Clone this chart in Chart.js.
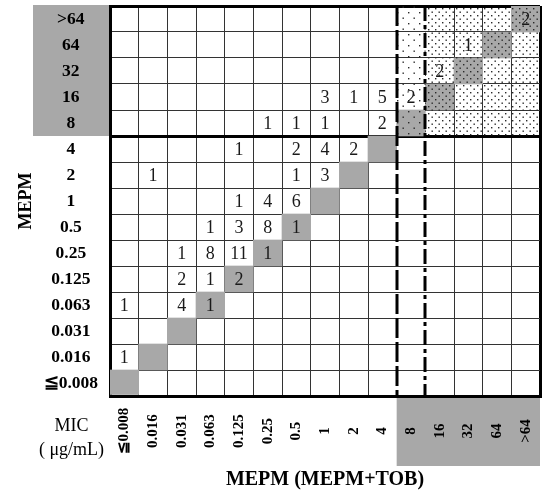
<!DOCTYPE html>
<html lang="en">
<head>
    <meta charset="UTF-8">
    <title>MEPM vs MEPM+TOB MIC</title>
    <script src="https://cdn.jsdelivr.net/npm/chart.js"></script>
    <style>
        body { margin: 0; background: #fff; }
        #wrap { width: 544px; height: 493px; position: relative; }
    </style>
</head>
<body>
    <div id="wrap"><canvas id="mic"></canvas></div>

    <script>
        // MIC steps, columns = MEPM (MEPM+TOB), rows = MEPM (top to bottom)
        const colLabels = ['≦0.008', '0.016', '0.031', '0.063', '0.125', '0.25', '0.5', '1', '2', '4', '8', '16', '32', '64', '>64'];
        const rowLabels = ['>64', '64', '32', '16', '8', '4', '2', '1', '0.5', '0.25', '0.125', '0.063', '0.031', '0.016', '≦0.008'];

        // number of strains per cell, rows in the same order as rowLabels
        const counts = [
            [0, 0, 0, 0, 0, 0, 0, 0, 0, 0, 0, 0, 0, 0, 2],
            [0, 0, 0, 0, 0, 0, 0, 0, 0, 0, 0, 0, 1, 0, 0],
            [0, 0, 0, 0, 0, 0, 0, 0, 0, 0, 0, 2, 0, 0, 0],
            [0, 0, 0, 0, 0, 0, 0, 3, 1, 5, 2, 0, 0, 0, 0],
            [0, 0, 0, 0, 0, 1, 1, 1, 0, 2, 0, 0, 0, 0, 0],
            [0, 0, 0, 0, 1, 0, 2, 4, 2, 0, 0, 0, 0, 0, 0],
            [0, 1, 0, 0, 0, 0, 1, 3, 0, 0, 0, 0, 0, 0, 0],
            [0, 0, 0, 0, 1, 4, 6, 0, 0, 0, 0, 0, 0, 0, 0],
            [0, 0, 0, 1, 3, 8, 1, 0, 0, 0, 0, 0, 0, 0, 0],
            [0, 0, 1, 8, 11, 1, 0, 0, 0, 0, 0, 0, 0, 0, 0],
            [0, 0, 2, 1, 2, 0, 0, 0, 0, 0, 0, 0, 0, 0, 0],
            [1, 0, 4, 1, 0, 0, 0, 0, 0, 0, 0, 0, 0, 0, 0],
            [0, 0, 0, 0, 0, 0, 0, 0, 0, 0, 0, 0, 0, 0, 0],
            [1, 0, 0, 0, 0, 0, 0, 0, 0, 0, 0, 0, 0, 0, 0],
            [0, 0, 0, 0, 0, 0, 0, 0, 0, 0, 0, 0, 0, 0, 0]
        ];

        // resistant breakpoint (shaded labels / stippled block start here)
        const breakpoint = '8';

        const n = colLabels.length;
        const bpCol = colLabels.indexOf(breakpoint);
        const bpRow = n - 1 - rowLabels.indexOf(breakpoint); // value from bottom

        const serif = 'Liberation Serif, Times New Roman, serif';
        const grey = '#a8a8a8';
        const lineGrey = '#333';

        function dots(step) {
            const c = document.createElement('canvas');
            c.width = step; c.height = step;
            const g = c.getContext('2d');
            g.fillStyle = '#2a2a2a';
            g.fillRect(1, 1, 1.4, 1.4);
            g.fillRect(1 + step / 2, 1 + step / 2, 1.4, 1.4);
            return g.createPattern(c, 'repeat');
        }
        const denseDots = dots(7);
        const sparseDots = dots(11);

        // grey diagonal = same MIC with and without TOB
        const diagonal = colLabels.map((c, j) => [j, j + 1]);
        const stipple = colLabels.map((c, j) => j >= bpCol ? [bpRow, n] : null);

        // no label overhang padding, the grid fills the plot
        const noPad = s => { s.paddingTop = 0; s.paddingBottom = 0; s.paddingLeft = 0; s.paddingRight = 0; };

        const cellPlugin = {
            id: 'cells',
            beforeDraw(chart) {
                const { ctx, chartArea, scales } = chart;
                const x = scales.x, y = scales.y, yl = scales.yl;
                ctx.save();
                ctx.fillStyle = grey;
                // row label band for resistant rows
                const top = y.getPixelForValue(n), bot = y.getPixelForValue(bpRow);
                ctx.fillRect(yl.left + 33, top - 1, chartArea.left - yl.left - 33, bot - top + 1);
                // column label band for resistant columns
                const half = (x.getPixelForValue(1) - x.getPixelForValue(0)) / 2;
                const l = x.getPixelForValue(bpCol) - half, r = x.getPixelForValue(n - 1) + half;
                ctx.fillRect(l, chartArea.bottom, r - l, 70);
                ctx.restore();
            },
            afterDraw(chart) {
                const { ctx, chartArea, scales } = chart;
                const x = scales.x, y = scales.y;
                const half = (x.getPixelForValue(1) - x.getPixelForValue(0)) / 2;
                ctx.save();

                // counts
                ctx.fillStyle = '#1a1a1a';
                ctx.font = '18px ' + serif;
                ctx.textAlign = 'center';
                ctx.textBaseline = 'middle';
                counts.forEach((row, r) => {
                    row.forEach((v, c) => {
                        if (!v) return;
                        ctx.fillText(String(v), x.getPixelForValue(c), y.getPixelForValue(n - 1 - r + 0.5) + 1);
                    });
                });

                // column labels, rotated and centred in the band
                ctx.fillStyle = '#000';
                ctx.font = 'bold 15px ' + serif;
                colLabels.forEach((lab, i) => {
                    ctx.save();
                    ctx.translate(x.getPixelForValue(i), chartArea.bottom + 35);
                    ctx.rotate(-Math.PI / 2);
                    ctx.fillText(lab, 0, 0);
                    ctx.restore();
                });

                // MIC unit caption
                ctx.font = '18px ' + serif;
                const cx = (scales.yl.left + 33 + chartArea.left) / 2;
                ctx.fillText('MIC', cx, chartArea.bottom + 30);
                ctx.fillText('( μg/mL)', cx, chartArea.bottom + 54);

                // breakpoint lines
                ctx.strokeStyle = '#000';
                ctx.lineWidth = 3;
                const xa = Math.round(x.getPixelForValue(bpCol) - half);
                const xb = Math.round(x.getPixelForValue(bpCol) + half);
                ctx.setLineDash([20, 4]);
                ctx.beginPath();
                ctx.moveTo(xa, chartArea.top);
                ctx.lineTo(xa, chartArea.bottom);
                ctx.stroke();
                ctx.setLineDash([15, 4, 4, 4]);
                ctx.beginPath();
                ctx.moveTo(xb, chartArea.top);
                ctx.lineTo(xb, chartArea.bottom);
                ctx.stroke();
                ctx.restore();
            }
        };

        new Chart(document.getElementById('mic'), {
            type: 'bar',
            data: {
                labels: colLabels,
                datasets: [
                    {
                        label: 'resistant',
                        data: stipple,
                        backgroundColor: colLabels.map((c, j) => j === bpCol ? sparseDots : denseDots),
                        borderWidth: 0,
                        grouped: false,
                        barPercentage: 1,
                        categoryPercentage: 1
                    },
                    {
                        label: 'same MIC',
                        data: diagonal,
                        backgroundColor: grey,
                        borderWidth: 0,
                        grouped: false,
                        barPercentage: 1,
                        categoryPercentage: 1
                    }
                ]
            },
            options: {
                responsive: true,
                maintainAspectRatio: false,
                animation: false,
                layout: { padding: { top: 6, right: 4, left: 0, bottom: 0 } },
                plugins: {
                    legend: { display: false },
                    tooltip: { enabled: false }
                },
                scales: {
                    x: {
                        type: 'category',
                        offset: true,
                        z: 1,
                        grid: {
                            offset: true,
                            drawTicks: false,
                            color: ctx => {
                                if (ctx.type !== 'tick' || ctx.index === 0) return '#000';
                                if (ctx.index === bpCol || ctx.index === bpCol + 1) return 'rgba(0,0,0,0)';
                                return lineGrey;
                            },
                            lineWidth: ctx => (ctx.type !== 'tick' || ctx.index === 0) ? 3 : 1
                        },
                        border: { display: true, color: '#000', width: 3 },
                        ticks: { display: false },
                        title: {
                            display: true,
                            text: 'MEPM (MEPM+TOB)',
                            color: '#000',
                            font: { family: serif, size: 20, weight: 'bold' },
                            padding: { top: 0, bottom: 1 }
                        },
                        afterFit: s => { s.height = 97; noPad(s); }
                    },
                    y: {
                        type: 'linear',
                        position: 'left',
                        weight: 0,
                        min: 0,
                        max: n,
                        z: 1,
                        ticks: { display: false, stepSize: 1 },
                        grid: {
                            drawTicks: false,
                            color: ctx => [0, bpRow, n].includes(ctx.tick.value) ? '#000' : lineGrey,
                            lineWidth: ctx => [0, bpRow, n].includes(ctx.tick.value) ? 3 : 1
                        },
                        border: { display: true, color: '#000', width: 3 },
                        afterFit: s => { s.width = 0; noPad(s); }
                    },
                    yl: {
                        type: 'category',
                        position: 'left',
                        weight: 1,
                        labels: rowLabels,
                        min: 0,
                        max: n - 1,
                        offset: true,
                        grid: { display: false, drawTicks: false },
                        border: { display: false },
                        ticks: {
                            crossAlign: 'center',
                            padding: 12,
                            color: '#000',
                            autoSkip: false,
                            font: { family: serif, size: 17.5, weight: 'bold' }
                        },
                        title: {
                            display: true,
                            text: 'MEPM',
                            color: '#000',
                            font: { family: serif, size: 18, weight: 'bold' },
                            padding: { top: 16, bottom: 0 }
                        },
                        afterFit: s => { s.width = 110; noPad(s); }
                    }
                }
            },
            plugins: [cellPlugin]
        });
    </script>
</body>
</html>
